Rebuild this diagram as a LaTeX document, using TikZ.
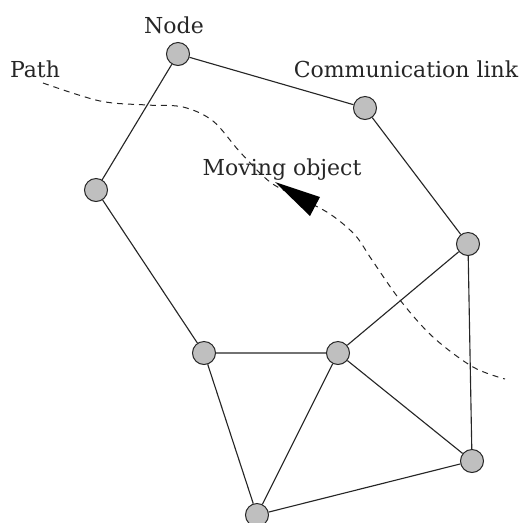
\documentclass[tikz,border=0pt]{standalone}
\usepackage{fontspec}
\setmainfont{DejaVu Serif}
\begin{document}
\begin{tikzpicture}[x=0.4pt,y=-0.4pt,
  netnode/.style={circle,draw=black!85,fill=black!25,line width=0.4pt,minimum size=9.2pt,inner sep=0pt},
  link/.style={draw=black!85,line width=0.45pt},
  lbl/.style={anchor=base,font=\fontsize{8.8}{10}\selectfont,text=black!85,inner sep=0pt},
  pathline/.style={dash pattern=on 2.4pt off 2pt,line width=0.4pt,black!85}]
\useasboundingbox (0,0) rectangle (528,522);
\clip (0,0) rectangle (528,522);
% dashed path
\draw[pathline] plot[smooth,tension=0.55] coordinates {(43,83) (100,101) (147,105) (183,107) (213,121) (240,152) (270,182) (300,198) (330,214) (355,235) (372,260) (400,300) (433,337) (473,367) (505,379)};
\fill[black] (275,182) -- (320,197) -- (310,216) -- cycle;
% nodes
\node[netnode] (n1) at (178,54) {};
\node[netnode] (n2) at (365,108) {};
\node[netnode] (n3) at (96,190) {};
\node[netnode] (n4) at (468,244) {};
\node[netnode] (n5) at (204,353) {};
\node[netnode] (n6) at (338,353) {};
\node[netnode] (n7) at (472,461) {};
\node[netnode] (n8) at (257,515) {};
% links
\path[link] (n1) -- (n2) (n1) -- (n3) (n2) -- (n4) (n3) -- (n5) (n5) -- (n6)
  (n6) -- (n4) (n4) -- (n7) (n6) -- (n7) (n5) -- (n8) (n6) -- (n8) (n7) -- (n8);
% labels
\node[lbl] (tnode) at (174,33) {Node};
\node[lbl] (tpath) at (35,77) {Path};
\node[lbl] (tcomm) at (406,77) {Communication link};
\node[lbl] (tmov) at (282,175) {Moving object};
\end{tikzpicture}
\end{document}
